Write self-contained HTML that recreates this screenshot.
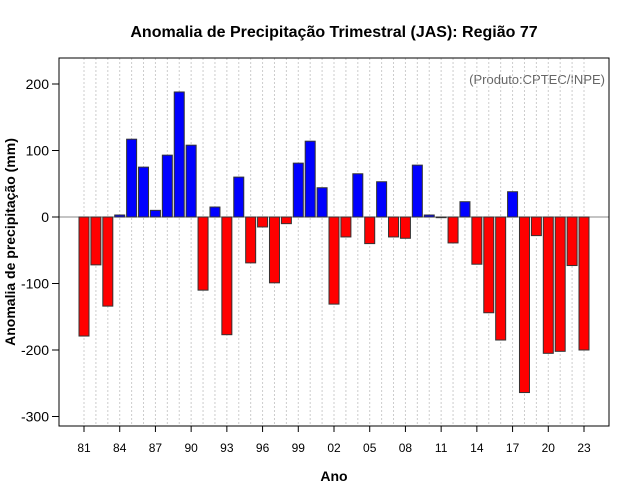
<!DOCTYPE html>
<html><head><meta charset="utf-8"><style>
body{margin:0;background:#fff;}
svg{display:block;font-family:"Liberation Sans",sans-serif;}
</style></head><body>
<svg id="chart" width="640" height="500">
<rect width="640" height="500" fill="#fff"/>
<text x="334" y="37" text-anchor="middle" font-size="16" font-weight="bold">Anomalia de Precipitação Trimestral (JAS): Região 77</text>
<text x="605" y="84" text-anchor="end" font-size="13" fill="#666">(Produto:CPTEC/INPE)</text>
<text x="334" y="481" text-anchor="middle" font-size="14" font-weight="bold">Ano</text>
<text transform="translate(15,242) rotate(-90)" text-anchor="middle" font-size="14" font-weight="bold">Anomalia de precipitação (mm)</text>
<g id="grid"></g><g id="bars"></g><g id="axes"></g>
<rect x="59" y="58" width="550" height="368" fill="none" stroke="#000"/>
</svg>
<script>
const years = [1981,1982,1983,1984,1985,1986,1987,1988,1989,1990,1991,1992,1993,1994,1995,1996,1997,1998,1999,2000,2001,2002,2003,2004,2005,2006,2007,2008,2009,2010,2011,2012,2013,2014,2015,2016,2017,2018,2019,2020,2021,2022,2023];
const anomalies = [-179,-72,-134,3,117,75,10,93,188,108,-110,15,-177,60,-69,-15,-99,-10,81,114,44,-131,-30,65,-40,53,-30,-32,78,3,-1,-39,23,-71,-144,-185,38,-264,-28,-205,-202,-73,-200];
const yTicks = [-300,-200,-100,0,100,200];
const xTickYears = [1981,1984,1987,1990,1993,1996,1999,2002,2005,2008,2011,2014,2017,2020,2023];
const NS='http://www.w3.org/2000/svg';
const xS = y => 84 + (y-1981)*(500/42);
const yS = v => 217 - v*0.665;
function mk(tag, attrs, parent){const e=document.createElementNS(NS,tag);for(const k in attrs)e.setAttribute(k,attrs[k]);parent.appendChild(e);return e;}
const grid=document.getElementById('grid'), bars=document.getElementById('bars'), axes=document.getElementById('axes');
years.forEach(y=>{
  const l=mk('line',{x1:xS(y),x2:xS(y),y1:58,y2:426,stroke:'#ccc','stroke-dasharray':'2,2'},grid);
  
  
});
const z=mk('line',{x1:59,x2:609,y1:yS(0),y2:yS(0),stroke:'#888'},grid);


years.forEach((y,i)=>{
  const v=anomalies[i];
  const top=Math.min(yS(v),yS(0)), h=Math.abs(yS(v)-yS(0));
  const r=mk('rect',{x:xS(y)-5,y:top,width:10,height:Math.max(h,0.5),fill:v>=0?'#0000ff':'#ff0000',stroke:'#333','stroke-width':1},bars);
  
  
});
yTicks.forEach(t=>{
  mk('line',{x1:52,x2:59,y1:yS(t),y2:yS(t),stroke:'#000'},axes);
  const tx=mk('text',{x:49,y:yS(t)+5,'text-anchor':'end','font-size':14},axes);
  tx.textContent=t;
  
  
});
xTickYears.forEach(y=>{
  mk('line',{x1:xS(y),x2:xS(y),y1:426,y2:432},axes);
  const tx=mk('text',{x:xS(y),y:452,'text-anchor':'middle','font-size':12},axes);
  tx.textContent=String(y%100).padStart(2,'0');
  
  
});
axes.querySelectorAll('line').forEach(l=>l.setAttribute('stroke','#000'));
</script>
</body></html>
